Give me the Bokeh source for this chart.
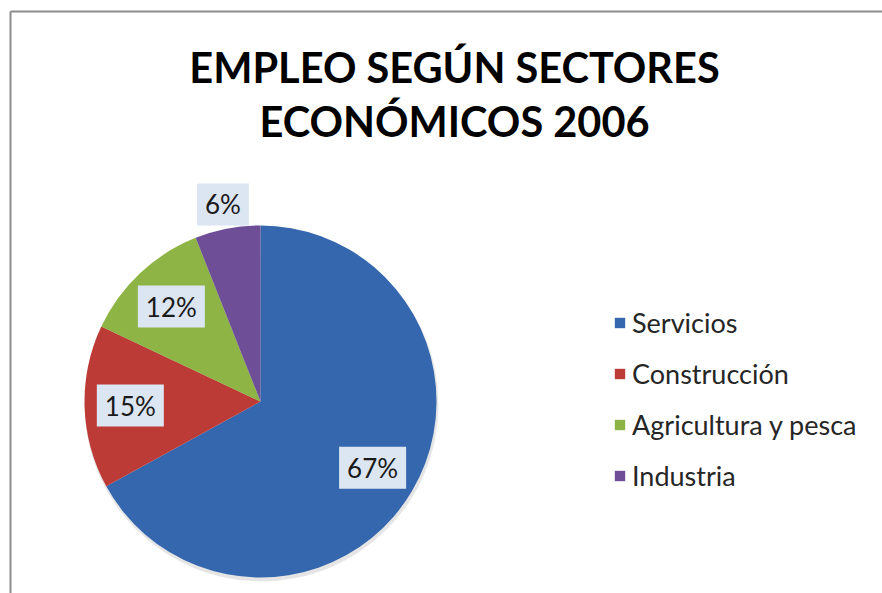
import math
from bokeh.plotting import figure
from bokeh.models import ColumnDataSource, Legend, LegendItem, Range1d
from bokeh.core.properties import value
from bokeh.embed import file_html
from bokeh.resources import INLINE

# ---- data ----
sectors = ["Servicios", "Construcción", "Agricultura y pesca", "Industria"]
shares = [67, 15, 12, 6]
labels = ["67%", "15%", "12%", "6%"]
colors = ["#3567AE", "#BD3B37", "#8DB444", "#6E4F97"]
title_lines = ["EMPLEO SEGÚN SECTORES", "ECONÓMICOS 2006"]

W, H = 882, 593
cx, cy, R = 260, 192, 176

# angles: start at top, going clockwise
total = sum(shares)
starts, ends, lx, ly = [], [], [], []
acc = 0.0
for i, v in enumerate(shares):
    a0 = math.pi / 2 - 2 * math.pi * acc / total
    acc += v
    a1 = math.pi / 2 - 2 * math.pi * acc / total
    starts.append(a0)
    ends.append(a1)
    mid = (a0 + a1) / 2
    rr = 0.74 * R if v >= 10 else 1.14 * R
    lx.append(cx + rr * math.cos(mid))
    ly.append(cy + rr * math.sin(mid))

src = ColumnDataSource(dict(sector=sectors, share=shares, start=starts, end=ends,
                            color=colors, lx=lx, ly=ly, label=labels))

p = figure(width=W, height=H, output_backend="svg", toolbar_location=None,
           x_range=Range1d(0, W), y_range=Range1d(0, H),
           min_border=0, min_border_left=0, min_border_right=0,
           min_border_top=0, min_border_bottom=0)
p.axis.visible = False
p.grid.visible = False
p.outline_line_color = None
p.background_fill_color = "white"
p.border_fill_color = "white"

# chart border (left and top visible)
p.segment(x0=[10, 10], y0=[0, 582], x1=[10, W], y1=[582, 582],
          line_color="#8c8c8c", line_width=2)

# subtle shadow
p.circle(x=[cx + 1], y=[cy - 3], radius=R + 1, fill_color="black",
         fill_alpha=0.10, line_color=None)

wedges = p.wedge(x=cx, y=cy, radius=R, start_angle="start", end_angle="end",
                 direction="clock", fill_color="color", line_color=None, source=src)

p.text(x="lx", y="ly", text="label", source=src,
       text_font=value("Lato"), text_font_size="26px", text_color="#1a1a1a",
       text_align="center", text_baseline="middle",
       background_fill_color="#dce6f2",
       padding=dict(left=8, right=8, top=5, bottom=5))

# title
p.text(x=[454, 454], y=[527, 473], text=title_lines,
       text_font=value("Lato"), text_font_style="bold", text_font_size="41.5px",
       text_color="black", text_align="center", text_baseline="middle")

items = [LegendItem(label=s, renderers=[wedges], index=i) for i, s in enumerate(sectors)]
legend = Legend(items=items, location=(613, 101), orientation="vertical",
                background_fill_alpha=0, border_line_color=None,
                padding=0, margin=0, spacing=18,
                glyph_width=13, glyph_height=13, label_height=25,
                label_text_font="Lato", label_text_font_size="27px",
                label_text_color="#262626", label_standoff=6)
p.add_layout(legend)

open("out.html", "w").write(file_html(p, INLINE))
